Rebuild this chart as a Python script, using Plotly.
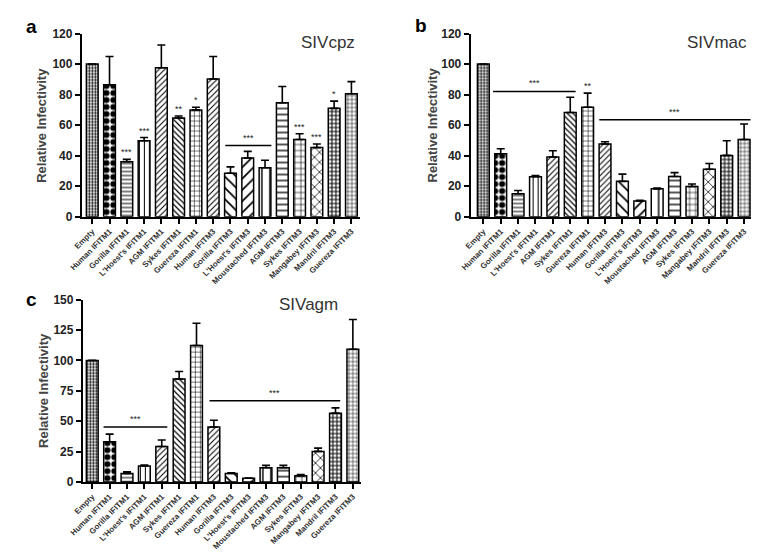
import plotly.graph_objects as go

categories = ["Empty", "Human IFITM1", "Gorilla IFITM1", "L'Hoest's IFITM1", "AGM IFITM1",
              "Sykes IFITM1", "Guereza IFITM1", "Human IFITM3", "Gorilla IFITM3",
              "L'Hoest's IFITM3", "Moustached IFITM3", "AGM IFITM3", "Sykes IFITM3",
              "Mangabey IFITM3", "Mandril IFITM3", "Guereza IFITM3"]

cpz_values = [100, 86.4, 36, 49.8, 97.6, 64.7, 70, 90.2, 28.5, 38.5, 32.1, 74.7, 50.6, 45.3, 71, 80.6]
cpz_upper = [100, 105, 37.6, 51.9, 112.5, 66, 71.7, 105, 32.7, 42.8, 37, 85.3, 54.4, 47.7, 75.7, 88.5]

mac_values = [100, 41.3, 15.1, 26.2, 39.1, 68.3, 71.7, 47.7, 23.2, 10.4, 18.3, 26.4, 19.8, 31.1, 40.2, 50.6]
mac_upper = [100, 44.5, 17.2, 27, 43.2, 78.3, 81, 49.1, 27.9, 10.8, 18.8, 28.9, 21.5, 34.9, 49.8, 60.8]

agm_values = [100, 33.1, 6.9, 13.1, 29.1, 84.7, 112.2, 45.1, 7.0, 3.0, 11.7, 11.7, 5.0, 25.1, 56.6, 109.2]
agm_upper = [100, 39.3, 8.3, 13.9, 34.5, 90.8, 130.6, 50.7, 7.5, 3.2, 13.6, 13.6, 6.0, 27.8, 60.9, 133.6]

# significance: (category index, label)
cpz_stars = [(2, "***"), (3, "***"), (5, "**"), (6, "*"), (12, "***"), (13, "***"), (14, "*")]
mac_stars = [(6, "**")]
# significance bars: (x0, x1, y)
cpz_brackets = [(7.7, 10.37, 46.6)]
mac_brackets = [(0.56, 5.31, 82.1), (6.67, 15.37, 63.6)]
agm_brackets = [(0.65, 4.32, 45.1), (6.75, 14.27, 66.7)]

pat_shapes = [".", ".", "-", "|", "/", "\\", "+", "/", "\\", "/", "|", "-", "+", "x", "+", "+"]
pat_sizes = [3, 7, 4, 5, 4, 4, 5, 4, 8, 8, 8, 6, 6, 7, 4, 4]
pat_solid = [0.45, 0.6, 0.25, 0.2, 0.25, 0.3, 0.2, 0.25, 0.22, 0.22, 0.18, 0.22, 0.2, 0.2, 0.45, 0.25]

W, H = 765, 555
FONT = "Liberation Sans, Arial, sans-serif"


def px(x):
    return x / W


def py(y):
    return 1 - y / H


fig = go.Figure()

panels = [
    dict(vals=cpz_values, up=cpz_upper, xa="x", ya="y", stars=cpz_stars, br=cpz_brackets),
    dict(vals=mac_values, up=mac_upper, xa="x2", ya="y2", stars=mac_stars, br=mac_brackets),
    dict(vals=agm_values, up=agm_upper, xa="x3", ya="y3", stars=[], br=agm_brackets),
]

for p in panels:
    fig.add_trace(go.Bar(
        x=categories, y=p["vals"], xaxis=p["xa"], yaxis=p["ya"],
        marker=dict(color="white", line=dict(color="black", width=1.5),
                    pattern=dict(shape=pat_shapes, size=pat_sizes, solidity=pat_solid,
                                 fgcolor="black", bgcolor="white", fgopacity=1,
                                 fillmode="overlay")),
        error_y=dict(type="data", symmetric=False,
                     array=[u - v for u, v in zip(p["up"], p["vals"])],
                     arrayminus=[0] * len(p["vals"]),
                     color="black", thickness=1.6, width=4),
        showlegend=False, hoverinfo="skip",
    ))
    for i, lab in p["stars"]:
        fig.add_annotation(x=i, y=p["up"][i], xref=p["xa"], yref=p["ya"], text=lab,
                           showarrow=False, yanchor="bottom", yshift=0,
                           font=dict(size=9, color="#222", family=FONT))
    for x0, x1, y in p["br"]:
        fig.add_shape(type="line", x0=x0, x1=x1, y0=y, y1=y, xref=p["xa"], yref=p["ya"],
                      line=dict(color="black", width=1.5))
        fig.add_annotation(x=(x0 + x1) / 2, y=y, xref=p["xa"], yref=p["ya"], text="***",
                           showarrow=False, yanchor="bottom", yshift=1,
                           font=dict(size=9, color="#222", family=FONT))

xcommon = dict(showline=True, linecolor="black", linewidth=2, ticks="outside", ticklen=5,
               tickwidth=1.5, tickcolor="black", tickangle=-45, showgrid=False, zeroline=False,
               tickfont=dict(size=8, color="#333", family=FONT, weight="bold"), type="category")
ycommon = dict(showline=True, linecolor="black", linewidth=2, ticks="outside", ticklen=5,
               tickwidth=1.5, tickcolor="black", showgrid=False, zeroline=False,
               tickfont=dict(size=12, color="#222", family=FONT, weight="bold"))

fig.update_layout(
    width=W, height=H, margin=dict(l=0, r=0, t=0, b=0),
    paper_bgcolor="white", plot_bgcolor="white", bargap=0.32,
    xaxis=dict(domain=[px(61), px(344)], range=[-0.6, 15.48], anchor="y", **xcommon),
    yaxis=dict(domain=[py(207), py(19)], range=[0, 120], dtick=20, anchor="x", **ycommon),
    xaxis2=dict(domain=[px(457), px(743)], range=[-0.73, 15.42], anchor="y2", **xcommon),
    yaxis2=dict(domain=[py(207), py(19)], range=[0, 120], dtick=20, anchor="x2", **ycommon),
    xaxis3=dict(domain=[px(62), px(345)], range=[-0.54, 15.45], anchor="y3", **xcommon),
    yaxis3=dict(domain=[py(479), py(292)], range=[0, 150], dtick=25, anchor="x3", **ycommon),
)

texts = [
    ("a", 10, 12, 19, "bold", "black", 0),
    ("b", 406, 11, 19, "bold", "black", 0),
    ("c", 10, 292, 19, "bold", "black", 0),
    ("SIVcpz", 312, 28, 17, "normal", "#333", 0),
    ("SIVmac", 708, 28, 17, "normal", "#333", 0),
    ("SIVagm", 292, 297, 17, "normal", "#333", 0),
    ("Relative Infectivity", 20, 113, 13, "bold", "#444", -90),
    ("Relative Infectivity", 418, 113, 13, "bold", "#444", -90),
    ("Relative Infectivity", 22, 385, 13, "bold", "#444", -90),
]
for t, x, y, s, w, c, a in texts:
    fig.add_annotation(x=px(x), y=py(y), xref="paper", yref="paper", text=t, showarrow=False,
                       xanchor="center", yanchor="middle", textangle=a,
                       font=dict(size=s, color=c, family=FONT, weight=w))

fig.write_html("out.html")
